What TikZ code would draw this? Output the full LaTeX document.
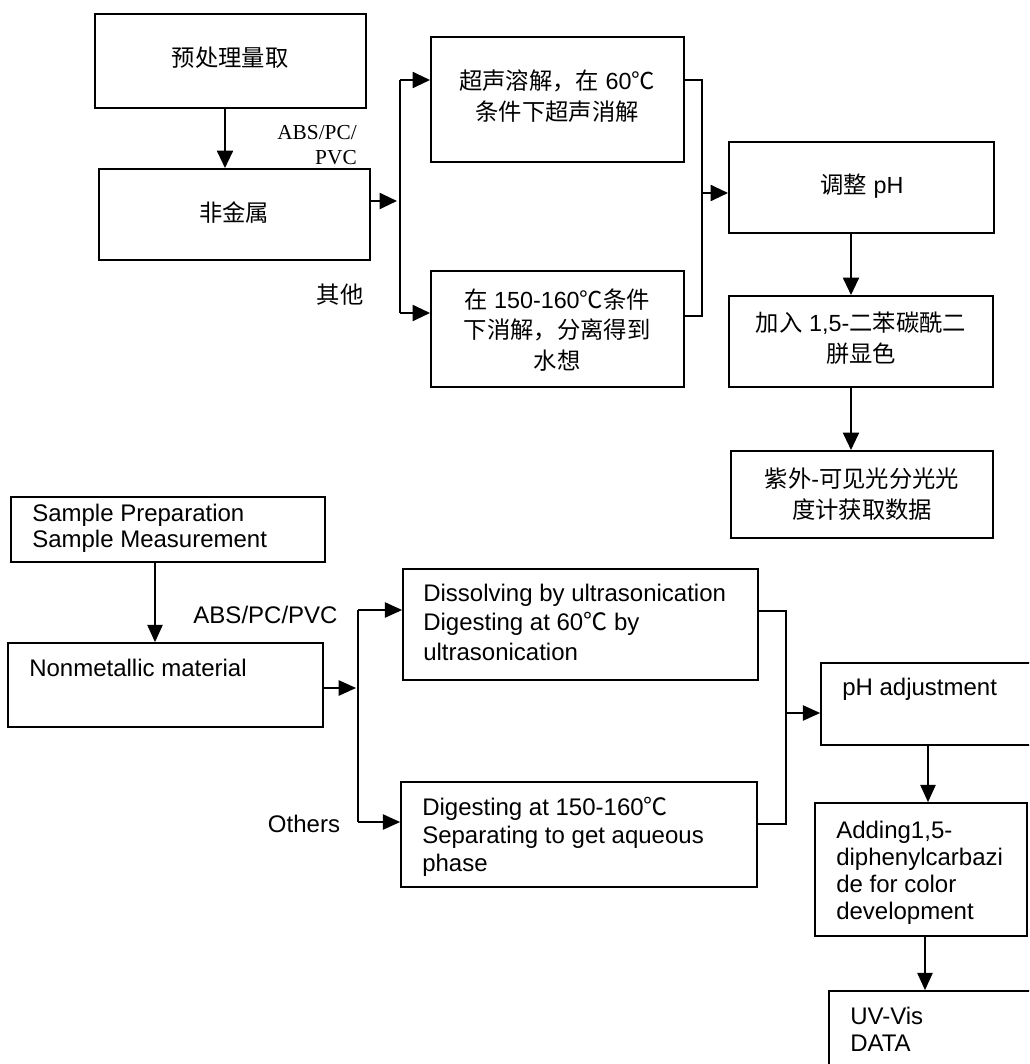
\documentclass[tikz,border=0pt]{standalone}
\usepackage{fontspec}
\setmainfont{Liberation Sans}
\newfontfamily\cjk{Noto Sans CJK SC}
\newfontfamily\tnr{Liberation Serif}
\usetikzlibrary{arrows.meta,fit,calc}
\newcommand{\zh}[1]{{\cjk #1}}
\begin{document}
\begin{tikzpicture}[x=0.75pt,y=-0.75pt,
  boxT/.style={draw, line width=1.5pt, inner sep=0pt},
  ztxt/.style={anchor=center, inner sep=0pt, align=center,
    font=\fontsize{17.5}{22.8}\selectfont},
  boxB/.style={draw, line width=1.3pt, inner sep=0pt},
  etxt/.style={anchor=north west, inner sep=0pt, align=left,
    font=\fontsize{18}{#1}\selectfont},
  etxt/.default=20.25pt,
  arrT/.style={line width=1.5pt, -{Triangle[length=13pt,width=12pt]}},
  trunkT/.style={line width=2.2pt},
  arrB/.style={line width=1.2pt, -{Triangle[length=13pt,width=11.5pt]}},
  lineB/.style={line width=1.2pt}]
\useasboundingbox (0,0) rectangle (1029,1064);
\clip (0,0) rectangle (1029,1064);
\fill[white] (0,0) rectangle (1029,1064);

% ---------- top (Chinese) ----------
\node[boxT, fit={(95,14) (366,108)}] (A) {};
\node[ztxt] (At) at (230,58) {\zh{预处理量取}};
\node[boxT, fit={(99,169) (370,260)}] (B) {};
\node[ztxt] (Bt) at (234,213) {\zh{非金属}};
\node[boxT, fit={(431,37) (684,162)}] (C) {};
\node[ztxt] (Ct) at (557,96) {\zh{超声溶解，在} 60\zh{℃}\\\zh{条件下超声消解}};
\node[boxT, fit={(431,271) (684,387)}] (D) {};
\node[ztxt] (Dt) at (557,330) {\zh{在} 150-160\zh{℃条件}\\\zh{下消解，分离得到}\\\zh{水想}};
\node[boxT, fit={(729,142) (994,233)}] (E) {};
\node[ztxt] (Et) at (862,186) {\zh{调整} pH};
\node[boxT, fit={(729,296) (993,387)}] (F) {};
\node[ztxt] (Ft) at (861,338) {\zh{加入} 1,5-\zh{二苯碳酰二}\\\zh{胼显色}};
\node[boxT, fit={(731,451) (993,538)}] (G) {};
\node[ztxt] (Gt) at (862,494) {\zh{紫外}-\zh{可见光分光光}\\\zh{度计获取数据}};

\node[anchor=east, inner sep=0pt, align=right, font=\tnr\fontsize{16}{19}\selectfont] (labT1) at (357,145) {ABS/PC/\\PVC};
\node[inner sep=0pt, font=\cjk\fontsize{17.5}{20}\selectfont] (labT2) at (340,295) {其他};

\coordinate (xa) at (225,0);
\coordinate (xe) at (851,0);
\coordinate (s1) at (400,80);
\coordinate (s2) at (400,313);
\coordinate (j1) at (400,201);
\coordinate (r1) at (702,80);
\coordinate (r2) at (702,316);
\coordinate (rm) at (702,193);

\draw[arrT] (A.south -| xa) -- (B.north -| xa);
\draw[arrT] (B.east |- j1) -- ($(j1)+(-3,0)$);
\draw[trunkT] (s1) -- (s2);
\draw[arrT] (s1) -- (C.west |- s1);
\draw[arrT] (s2) -- (D.west |- s2);
\draw[trunkT] (C.east |- r1) -- (r1) -- (r2) -- (D.east |- r2);
\draw[arrT] (rm) -- (E.west |- rm);
\draw[arrT] (E.south -| xe) -- (F.north -| xe);
\draw[arrT] (F.south -| xe) -- (G.north -| xe);

% ---------- bottom (English) ----------
\node[boxB, fit={(11,497) (325,562)}] (H) {};
\node[etxt=19.5pt] (Ht) at (32,504) {Sample Preparation\\Sample Measurement};
\node[boxB, fit={(8,643) (323,727)}] (I) {};
\node[etxt] (It) at (29,659) {Nonmetallic material};
\node[boxB, fit={(403,569) (758,680)}] (J) {};
\node[etxt=22pt] (Jt) at (423,584) {Dissolving by ultrasonication\\Digesting at 60\zh{℃} by\\ultrasonication};
\node[boxB, fit={(401,782) (757,887)}] (K) {};
\node[etxt=21pt] (Kt) at (422,797) {Digesting at 150-160\zh{℃}\\Separating to get aqueous\\phase};
\node[boxB, fit={(821,663) (1045,745)}] (L) {};
\node[etxt] (Lt) at (842,678) {pH adjustment};
\node[boxB, fit={(815,803) (1027,936)}] (M) {};
\node[etxt] (Mt) at (836,821) {Adding1,5-\\diphenylcarbazi\\de for color\\development};
\node[boxB, fit={(829,991) (1045,1090)}] (N) {};
\node[etxt] (Nt) at (850,1007) {UV-Vis\\DATA};

\node[inner sep=0pt, font=\fontsize{18}{20}\selectfont] (labB1) at (265.5,615) {ABS/PC/PVC};
\node[inner sep=0pt, font=\fontsize{18}{20}\selectfont] (labB2) at (304,824) {Others};

\coordinate (xh) at (155,0);
\coordinate (xl) at (928,0);
\coordinate (xm) at (925,0);
\coordinate (b1) at (358,610);
\coordinate (b2) at (358,822);
\coordinate (bj) at (358,688);
\coordinate (c1) at (786,611);
\coordinate (c2) at (786,824);
\coordinate (cm) at (786,713);

\draw[arrB] (H.south -| xh) -- (I.north -| xh);
\draw[arrB] (I.east |- bj) -- ($(bj)+(-2,0)$);
\draw[lineB] (b1) -- (b2);
\draw[arrB] (b1) -- (J.west |- b1);
\draw[arrB] (b2) -- (K.west |- b2);
\draw[lineB] (J.east |- c1) -- (c1) -- (c2) -- (K.east |- c2);
\draw[arrB] (cm) -- (L.west |- cm);
\draw[arrB] (L.south -| xl) -- (M.north -| xl);
\draw[arrB] (M.south -| xm) -- (N.north -| xm);
\end{tikzpicture}
\end{document}
